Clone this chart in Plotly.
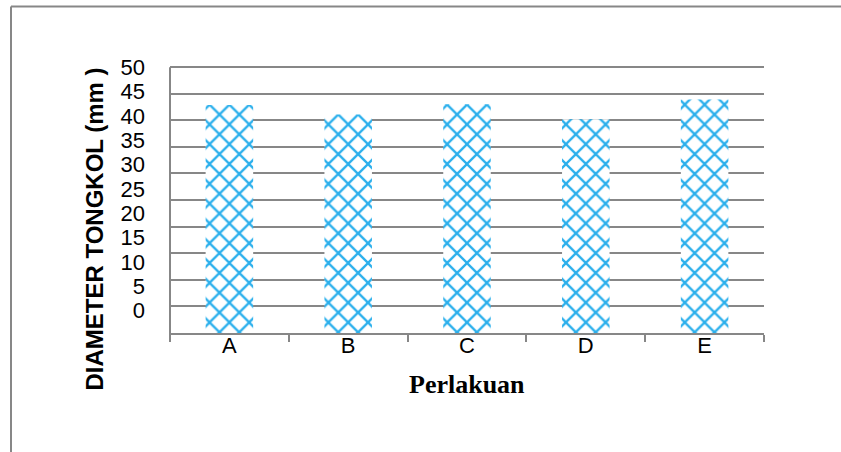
import plotly.graph_objects as go

# Treatments and mean cob diameter (mm)
perlakuan = ["A", "B", "C", "D", "E"]
diameter = [42.9, 41.1, 43.0, 40.2, 43.9]

# Value-axis tick labels
tick_labels = [0, 5, 10, 15, 20, 25, 30, 35, 40, 45, 50]

GRID = "#878787"
BLUE = "#2AAFEC"

# Label column is slightly tighter than the gridline spacing
label_pos = [50 - (50 - v) * 0.916 for v in tick_labels]

Y_MAX = 50.4  # a little headroom so the 50 gridline is drawn

fig = go.Figure()
fig.add_trace(go.Bar(
    x=perlakuan,
    y=diameter,
    marker=dict(
        color="white",
        line=dict(width=0),
        pattern=dict(shape="x", fgcolor=BLUE, fgopacity=1, bgcolor="white",
                     size=14, solidity=0.3),
    ),
    hoverinfo="x+y",
))
# invisible companion trace so the label axis is laid out
fig.add_trace(go.Scatter(
    x=perlakuan,
    y=diameter,
    yaxis="y2",
    mode="markers",
    marker=dict(opacity=0),
    hoverinfo="skip",
))

W, H = 841, 452
PL, PR, PB = 170, 764, 332.7
UNIT = 5.304  # pixels per mm on the value axis
PT = PB - Y_MAX * UNIT
pw, ph = PR - PL, PB - PT


def px_x(px):
    return (px - PL) / pw


def px_y(py):
    return (PB - py) / ph


fig.update_layout(
    width=W,
    height=H,
    margin=dict(l=PL, r=W - PR, t=PT, b=H - PB),
    paper_bgcolor="white",
    plot_bgcolor="white",
    showlegend=False,
    bargap=0.6,
    font=dict(family="Liberation Sans, Arial, sans-serif", color="black"),
    xaxis=dict(
        type="category",
        showline=True,
        linecolor=GRID,
        linewidth=2,
        ticks="outside",
        tickson="boundaries",
        ticklen=7,
        tickwidth=2,
        tickcolor=GRID,
        ticklabelstandoff=-8,
        tickfont=dict(size=22, family="Liberation Sans, Arial, sans-serif"),
        showgrid=False,
        zeroline=False,
    ),
    yaxis=dict(
        range=[0, Y_MAX],
        tickmode="array",
        tickvals=tick_labels,
        showgrid=True,
        gridcolor=GRID,
        gridwidth=2,
        showline=False,
        showticklabels=False,
        ticks="",
        zeroline=False,
    ),
    yaxis2=dict(
        overlaying="y",
        side="left",
        range=[0, Y_MAX],
        tickmode="array",
        tickvals=label_pos,
        ticktext=[str(v) for v in tick_labels],
        tickfont=dict(size=22, family="Liberation Sans, Arial, sans-serif"),
        ticks="",
        ticklabelstandoff=24,
        showgrid=False,
        showline=False,
        zeroline=False,
    ),
    annotations=[
        dict(
            text="<b>DIAMETER TONGKOL (mm )</b>",
            xref="paper", yref="paper",
            x=px_x(95), y=px_y(229.5),
            xanchor="center", yanchor="middle",
            textangle=-90,
            showarrow=False,
            font=dict(size=24, family="Liberation Sans, Arial, sans-serif", color="black"),
        ),
        dict(
            text="<b>Perlakuan</b>",
            xref="paper", yref="paper",
            x=px_x(467), y=px_y(384),
            xanchor="center", yanchor="middle",
            showarrow=False,
            font=dict(size=26, family="Liberation Serif, Times New Roman, serif", color="black"),
        ),
    ],
    shapes=[
        # value-axis line from the 50 gridline down to the category ticks
        dict(type="line", xref="paper", yref="paper",
             x0=0, x1=0, y0=px_y(PB + 7), y1=px_y(PB - 50 * UNIT),
             line=dict(color=GRID, width=2)),
        # chart frame (top and left edges)
        dict(type="line", xref="paper", yref="paper",
             x0=px_x(11), x1=px_x(W + 5), y0=px_y(7), y1=px_y(7),
             line=dict(color=GRID, width=2)),
        dict(type="line", xref="paper", yref="paper",
             x0=px_x(11), x1=px_x(11), y0=px_y(7), y1=px_y(H + 5),
             line=dict(color=GRID, width=2)),
    ],
)

fig.write_html("out.html")
